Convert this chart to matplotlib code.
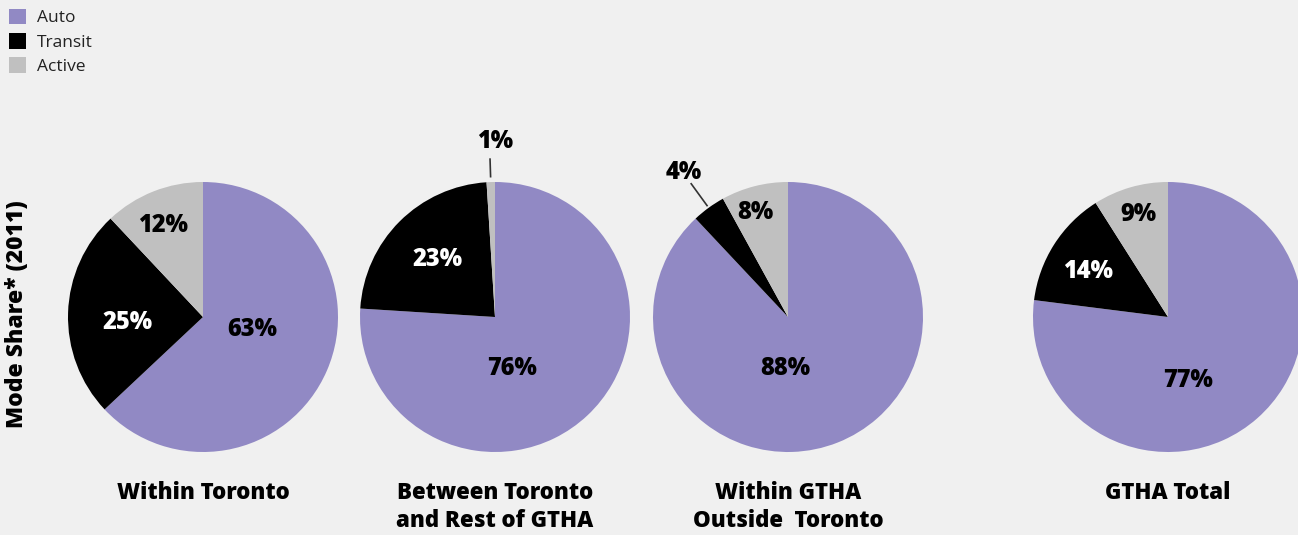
import numpy as np
import matplotlib
matplotlib.use("Agg")
import matplotlib.pyplot as plt

# data
modes = ["Auto", "Transit", "Active"]
regions = ["Within Toronto", "Between Toronto\nand Rest of GTHA",
           "Within GTHA\nOutside  Toronto", "GTHA Total"]
shares = [
    [63, 25, 12],
    [76, 23, 1],
    [88, 4, 8],
    [77, 14, 9],
]
colors = ["#9189c4", "#000000", "#c0c0c0"]
bg = "#f0f0f0"

# layout (pixels), label placement as (radius fraction, angle nudge in deg)
W, H = 1298, 535
centers_x = [203, 495, 788, 1168]
center_y = 317
radius = 135
label_pos = [
    [(0.38, 9), (0.56, 6), (0.74, 2)],
    [(0.40, -25), (0.60, 0), (1.30, -2)],
    [(0.38, -25), (1.32, 0), (0.81, 3)],
    [(0.49, -24), (0.68, 3), (0.79, 0)],
]
leaders = {(1, 2): (1.04, 1.17), (2, 1): (1.02, 1.22)}

plt.rcParams['font.family'] = ['Open Sans', 'DejaVu Sans']

fig = plt.figure(figsize=(W / 100, H / 100), dpi=100, facecolor=bg)
ax = fig.add_axes([0, 0, 1, 1])
ax.set_facecolor(bg)

cy = H - center_y
handles = None
for i, (vals, cx) in enumerate(zip(shares, centers_x)):
    wedges, _ = ax.pie(vals, colors=colors, startangle=90, counterclock=False,
                       center=(cx, cy), radius=radius, frame=True,
                       wedgeprops=dict(linewidth=0))
    if handles is None:
        handles = wedges
    for j, w in enumerate(wedges):
        mid = (w.theta1 + w.theta2) / 2.0
        r, nudge = label_pos[i][j]
        a = np.deg2rad(mid + nudge)
        tx = cx + r * radius * np.cos(a)
        ty = cy + r * radius * np.sin(a)
        inside_dark = (j == 1 and r < 1)
        ax.text(tx, ty, f"{vals[j]}%", ha='center', va='center',
                fontsize=17, fontweight='heavy',
                color='white' if inside_dark else 'black')
        if (i, j) in leaders:
            r0, r1 = leaders[(i, j)]
            am = np.deg2rad(mid)
            ax.plot([cx + r0 * radius * np.cos(am), cx + r1 * radius * np.cos(am)],
                    [cy + r0 * radius * np.sin(am), cy + r1 * radius * np.sin(am)],
                    color='#333333', lw=1.2)
    ax.text(cx, H - 481, regions[i], ha='center', va='top', fontsize=16,
            fontweight='heavy', linespacing=1.22)

ax.set_xlim(0, W)
ax.set_ylim(0, H)
ax.set_aspect('auto')
ax.axis('off')

ax.text(17, H - 314, "Mode Share* (2011)", rotation=90, ha='center',
        va='center', fontsize=16.5, fontweight='heavy')

leg = ax.legend(handles, modes, loc='upper left', bbox_to_anchor=(0.002, 0.995),
                frameon=False, fontsize=12.5, handlelength=1.0, handleheight=1.0,
                handletextpad=0.62, labelspacing=0.38, borderaxespad=0.35,
                borderpad=0.0)
for t in leg.get_texts():
    t.set_color('#222222')

fig.savefig("out.png", dpi=100, facecolor=bg)
